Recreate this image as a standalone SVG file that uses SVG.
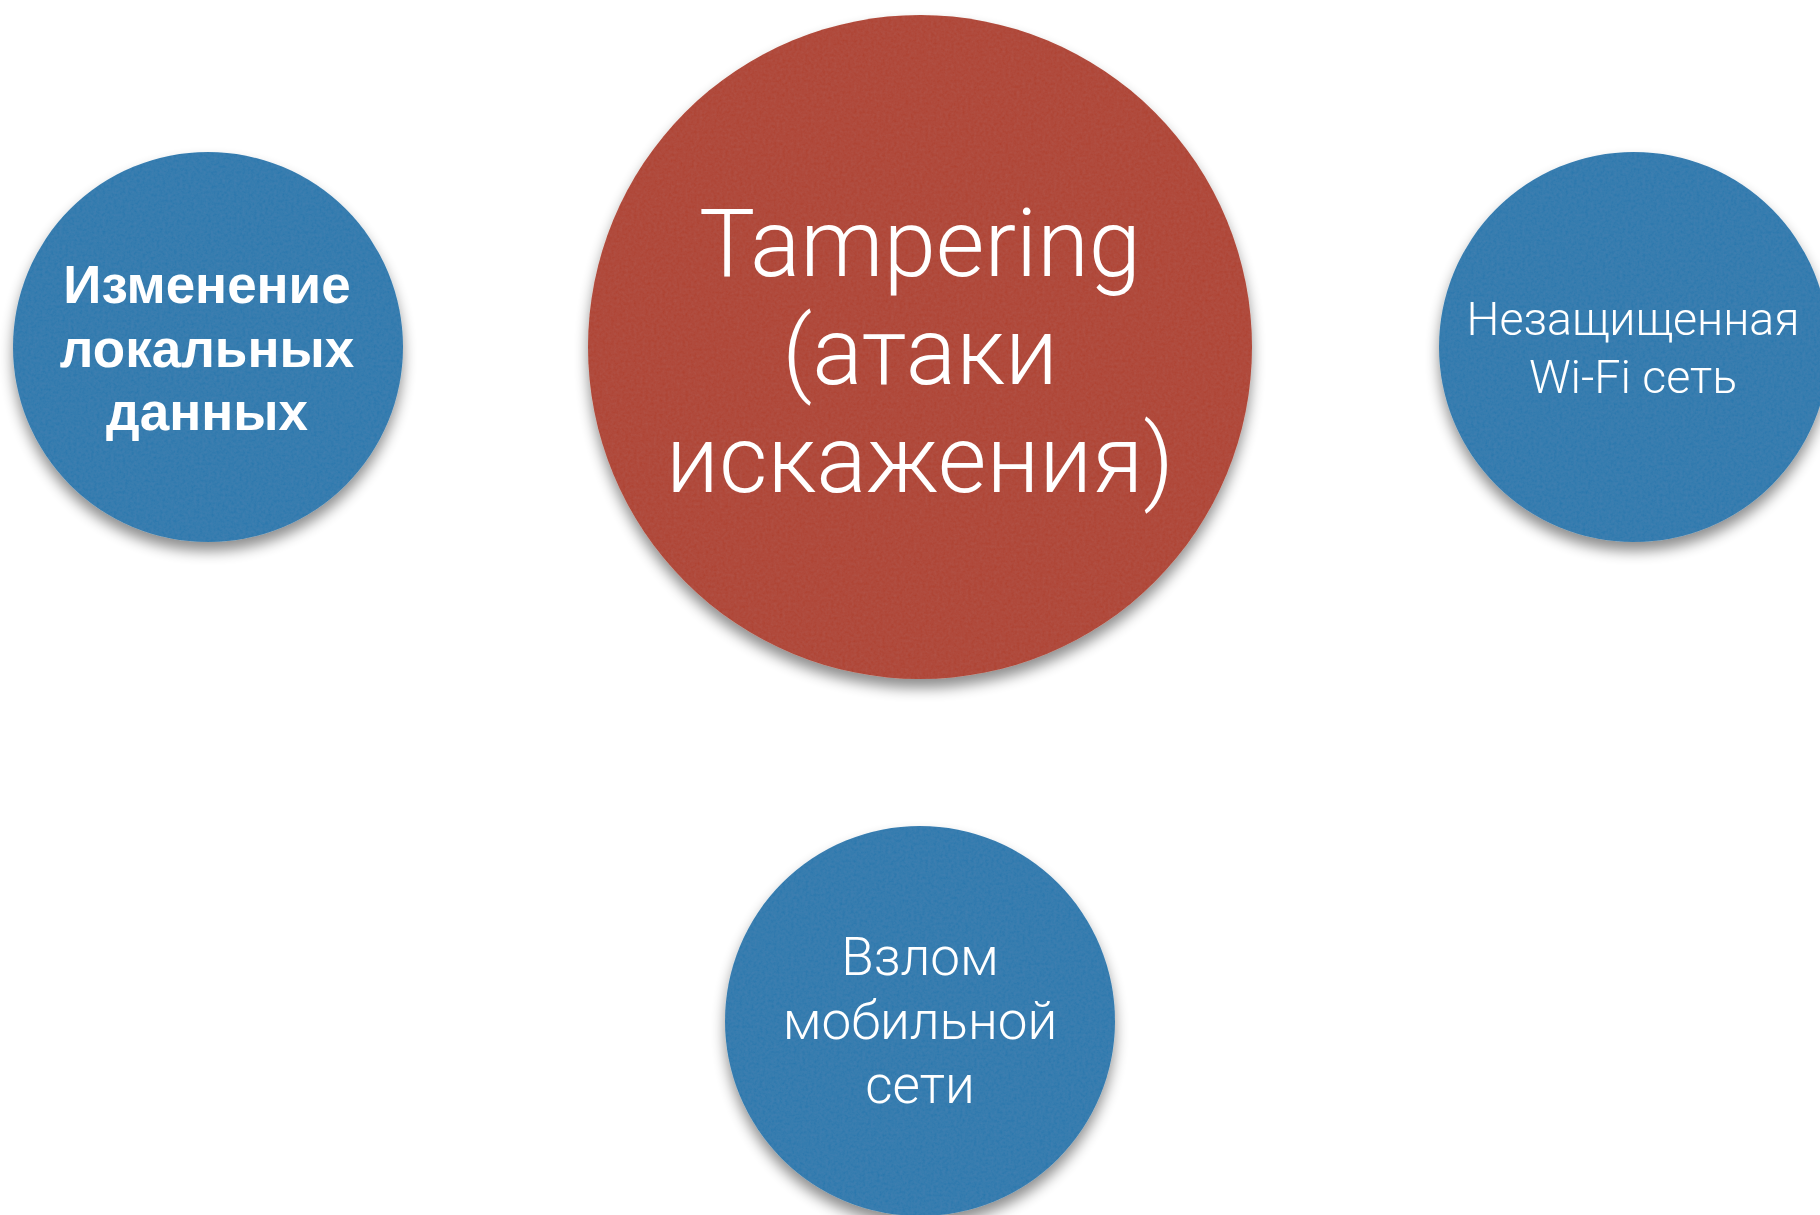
<svg xmlns="http://www.w3.org/2000/svg" width="1820" height="1215" viewBox="0 0 1820 1215">
<defs>
<filter id="shadow" x="-20%" y="-20%" width="140%" height="150%">
<feGaussianBlur in="SourceAlpha" stdDeviation="7"/>
<feOffset dx="0" dy="9" result="b"/>
<feComponentTransfer><feFuncA type="linear" slope="0.45"/></feComponentTransfer>
<feMerge><feMergeNode/><feMergeNode in="SourceGraphic"/></feMerge>
</filter>
<filter id="paper" x="0" y="0" width="100%" height="100%">
<feTurbulence type="fractalNoise" baseFrequency="0.35" numOctaves="2" seed="4" result="n"/>
<feColorMatrix in="n" type="matrix" values="0 0 0 0 1  0 0 0 0 1  0 0 0 0 1  0 0 0 0.035 0" result="w"/>
<feComposite in="w" in2="SourceGraphic" operator="in" result="t"/>
<feMerge><feMergeNode in="SourceGraphic"/><feMergeNode in="t"/></feMerge>
</filter>
</defs>
<style>
.blue{fill:#2b78ad;}
.red{fill:#ae4230;}
.light{font-family:Roboto,"Liberation Sans",sans-serif;font-weight:300;fill:#ffffff;text-anchor:middle;}
.bold{font-family:"Liberation Sans",Arial,sans-serif;font-weight:bold;fill:#ffffff;text-anchor:middle;}
</style>
<rect width="1820" height="1215" fill="#ffffff"/>
<g id="connectors"></g>
<g id="node-local" filter="url(#shadow)">
<circle class="blue" cx="208" cy="347" r="195" filter="url(#paper)"/>
<text class="bold" font-size="53"><tspan x="207" y="303">Изменение</tspan><tspan x="207" y="367">локальных</tspan><tspan x="207" y="430">данных</tspan></text>
</g>
<g id="node-tampering" filter="url(#shadow)">
<circle class="red" cx="920" cy="347" r="332" filter="url(#paper)"/>
<text class="light" font-size="94"><tspan x="920" y="276">Tampering</tspan><tspan x="920" y="384">(атаки</tspan><tspan x="920" y="492">искажения)</tspan></text>
</g>
<g id="node-wifi" filter="url(#shadow)">
<circle class="blue" cx="1634" cy="347" r="195" filter="url(#paper)"/>
<text class="light" font-size="46.5"><tspan x="1633" y="335">Незащищенная</tspan><tspan x="1633" y="393">Wi-Fi сеть</tspan></text>
</g>
<g id="node-mobile" filter="url(#shadow)">
<circle class="blue" cx="920" cy="1021" r="195" filter="url(#paper)"/>
<text class="light" font-size="53"><tspan x="920" y="975">Взлом</tspan><tspan x="920" y="1039">мобильной</tspan><tspan x="920" y="1103">сети</tspan></text>
</g>
</svg>
